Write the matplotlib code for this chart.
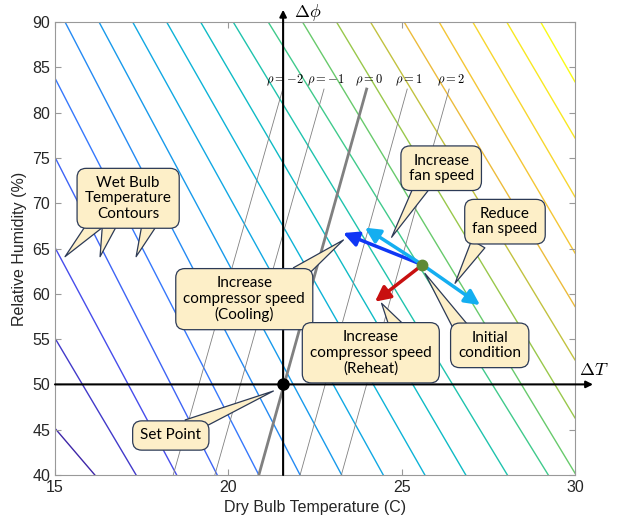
import numpy as np
import matplotlib.pyplot as plt
from matplotlib.colors import LinearSegmentedColormap

plt.rcParams['mathtext.fontset'] = 'cm'
plt.rcParams['font.family'] = 'Liberation Sans'

# ---------------- data ----------------
# wet bulb contour lines: start point (T, RH) and end point (T, RH)
wb_T0 = [15.0, 15.0, 15.0, 15.0, 15.0, 15.29, 16.27, 17.24, 18.22, 19.20,
         20.14, 21.15, 22.14, 23.12, 24.10, 25.07, 26.08, 27.05, 28.03, 29.01]
wb_RH0 = [45.15, 55.1, 65.1, 75.07, 83.8, 90, 90, 90, 90, 90,
          90, 90, 90, 90, 90, 90, 90, 90, 90, 90]
wb_T1 = [16.15, 17.34, 18.51, 19.68, 20.88, 22.07, 23.27, 24.47, 25.67, 26.85,
         28.05, 29.23, 30, 30, 30, 30, 30, 30, 30, 30]
wb_RH1 = [40, 40, 40, 40, 40, 40, 40, 40, 40, 40,
          40, 40, 40.2, 46.3, 52.7, 58.6, 64.5, 70.7, 77.2, 83.4]

# rho lines
rho_vals = [-2, -1, 0, 1, 2]
rho_T_top = [21.57, 22.76, 23.99, 25.16, 26.37]
rho_T_bot = [18.41, 19.61, 20.88, 22.07, 23.26]
rho_RH_top = 82.6
rho_RH_bot = 40

set_point = (21.58, 50)
init_point = (25.6, 63.2)

# control arrows (tip positions)
arrow_tips = [(23.31, 66.71), (23.94, 67.3), (27.26, 58.76), (24.23, 59.13)]
arrow_cols = ['#0f37f5', '#14aef0', '#14aef0', '#c81010']

# callouts
call_text = ['Wet Bulb\nTemperature\nContours',
             'Increase\ncompressor speed\n(Cooling)',
             'Increase\nfan speed',
             'Reduce\nfan speed',
             'Initial\ncondition',
             'Increase\ncompressor speed\n(Reheat)',
             'Set Point']
call_pos = [(17.11, 70.54), (20.46, 59.41), (26.14, 73.86), (27.98, 67.96),
            (27.54, 54.31), (24.11, 53.49), (18.34, 44.36)]
# tails: (box index, base, tip)
tail_box = [0, 0, 0, 1, 2, 3, 4, 5, 6]
tail_base = [(16.21, 67.9), (16.59, 67.9), (17.74, 67.9), (22.01, 62.2),
             (25.59, 71.9), (27.21, 65.5), (26.77, 55.9), (24.89, 56.1), (18.84, 45.3)]
tail_tip = [(15.29, 64.1), (16.30, 64.1), (17.34, 64.1), (23.32, 65.94),
            (24.71, 66.24), (26.54, 61.16), (25.67, 62.26), (24.42, 58.95), (21.30, 49.27)]

# parula-like colormap
parula = LinearSegmentedColormap.from_list('parula', [
    (0.2422, 0.1504, 0.6603), (0.2780, 0.3000, 0.9200), (0.2200, 0.4600, 0.9950),
    (0.1000, 0.5900, 0.9300), (0.0500, 0.6900, 0.8700), (0.0600, 0.7500, 0.7400),
    (0.3000, 0.8000, 0.5000), (0.6500, 0.7800, 0.2600), (0.9500, 0.7300, 0.2300),
    (0.9700, 0.8400, 0.1800), (0.9769, 0.9839, 0.0805)])

# ---------------- plot ----------------
fig = plt.figure(figsize=(6.22, 5.23), dpi=100)
ax = fig.add_axes([55 / 622, 1 - 475 / 523, 520 / 622, 453 / 523])

n = len(wb_T0)
for i in range(n):
    ax.plot([wb_T0[i], wb_T1[i]], [wb_RH0[i], wb_RH1[i]],
            color=parula(i / (n - 1)), lw=1.0, zorder=1)

for r, tt, tb in zip(rho_vals, rho_T_top, rho_T_bot):
    ax.plot([tb, tt], [rho_RH_bot, rho_RH_top], color='0.5',
            lw=2.0 if r == 0 else 0.6, zorder=2)
    ax.text(tt + 0.06, 83.6, r'$\rho = %d$' % r, ha='center', va='center',
            fontsize=9, zorder=3)

# delta axes
ax.annotate('', xy=(set_point[0], 91.35), xytext=(set_point[0], 40),
            arrowprops=dict(arrowstyle='-|>', color='k', lw=1.5,
                            shrinkA=0, shrinkB=0, mutation_scale=10),
            annotation_clip=False, zorder=4)
ax.annotate('', xy=(30.52, 50), xytext=(15, 50),
            arrowprops=dict(arrowstyle='-|>', color='k', lw=1.5,
                            shrinkA=0, shrinkB=0, mutation_scale=10),
            annotation_clip=False, zorder=4)
ax.text(21.9, 91.1, r'$\Delta\phi$', fontsize=13, va='center', ha='left')
ax.text(30.12, 51.5, r'$\Delta T$', fontsize=13, va='center', ha='left')

for tip, c in zip(arrow_tips, arrow_cols):
    ax.annotate('', xy=tip, xytext=init_point,
                arrowprops=dict(arrowstyle='-|>,head_length=0.6,head_width=0.3',
                                color=c, lw=2.5, shrinkA=0, shrinkB=0,
                                mutation_scale=15), zorder=5)

ax.plot(*set_point, 'o', color='k', ms=8, zorder=6)
ax.plot(*init_point, 'o', color='#5f8a35', ms=7.5, zorder=6)

box_fc = '#fdefc8'
box_ec = '#2c3a56'
for b, base, tip in zip(tail_box, tail_base, tail_tip):
    ax.annotate('', xy=tip, xytext=base,
                arrowprops=dict(arrowstyle='wedge,tail_width=1.1,shrink_factor=0.5',
                                fc=box_fc, ec=box_ec, lw=0.9, shrinkA=0, shrinkB=0,
                                mutation_scale=10), zorder=7)
for txt, pos in zip(call_text, call_pos):
    ax.text(pos[0], pos[1], txt, ha='center', va='center', fontsize=11,
            family='Lato', linespacing=1.12, color='k', zorder=8,
            bbox=dict(boxstyle='round,pad=0.5,rounding_size=0.6',
                      fc=box_fc, ec=box_ec, lw=0.9))

ax.set_xlim(15, 30)
ax.set_ylim(40, 90)
ax.set_xticks([15, 20, 25, 30])
ax.set_yticks(np.arange(40, 91, 5))
ax.tick_params(direction='in', length=4, top=True, right=True,
               colors='0.6', labelcolor='0.15', labelsize=11.5)
for s in ax.spines.values():
    s.set_color('0.6')
ax.set_xlabel('Dry Bulb Temperature (C)', fontsize=11.5, color='0.15')
ax.set_ylabel('Relative Humidity (%)', fontsize=11.5, color='0.15')

fig.savefig('out.png', dpi=100)
